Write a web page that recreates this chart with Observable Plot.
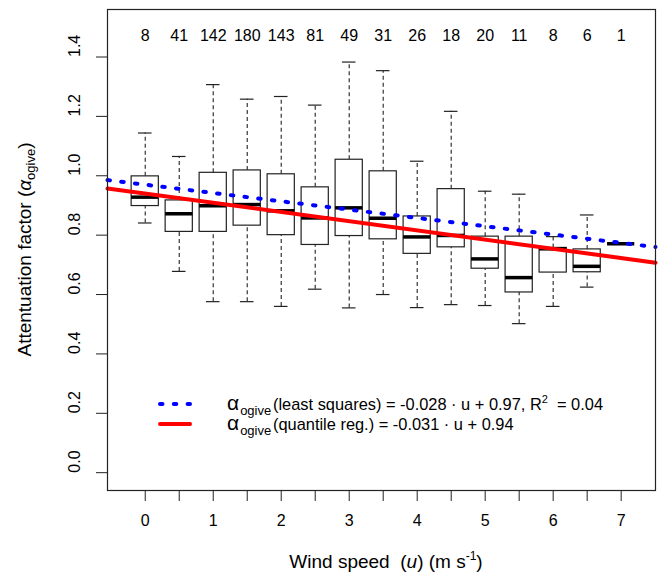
<!DOCTYPE html>
<html>
<head>
<meta charset="utf-8">
<script src="https://cdn.jsdelivr.net/npm/d3@7"></script>
<script src="https://cdn.jsdelivr.net/npm/@observablehq/plot@0.6"></script>
<style>
  html, body { margin: 0; padding: 0; background: #ffffff; }
  svg { display: block; }
</style>
</head>
<body>
<script>
// ---- Data ----
const windSpeed   = [0, 0.5, 1, 1.5, 2, 2.5, 3, 3.5, 4, 4.5, 5, 5.5, 6, 6.5, 7];
const counts      = [8, 41, 142, 180, 143, 81, 49, 31, 26, 18, 20, 11, 8, 6, 1];
const whiskerLow  = [0.841, 0.678, 0.576, 0.576, 0.560, 0.618, 0.555, 0.600, 0.556, 0.566, 0.563, 0.502, 0.560, 0.625, 0.771];
const quart1      = [0.898, 0.811, 0.811, 0.832, 0.800, 0.767, 0.797, 0.786, 0.737, 0.759, 0.687, 0.607, 0.674, 0.675, 0.771];
const medians     = [0.928, 0.872, 0.899, 0.903, 0.882, 0.858, 0.892, 0.857, 0.794, 0.799, 0.720, 0.657, 0.754, 0.695, 0.771];
const quart3      = [0.998, 0.917, 1.010, 1.018, 1.005, 0.961, 1.054, 1.015, 0.863, 0.955, 0.795, 0.795, 0.757, 0.752, 0.771];
const whiskerHigh = [1.144, 1.065, 1.307, 1.258, 1.267, 1.238, 1.383, 1.354, 1.049, 1.217, 0.948, 0.938, 0.795, 0.868, 0.771];

const xTickLabels = [0, 1, 2, 3, 4, 5, 6, 7];
const yTicks      = [0, 0.2, 0.4, 0.6, 0.8, 1.0, 1.2, 1.4];
const yTickLabels = ["0.0", "0.2", "0.4", "0.6", "0.8", "1.0", "1.2", "1.4"];

const fitNames      = ["least squares", "quantile reg."];
const fitSlopes     = [-0.028, -0.031];
const fitIntercepts = [0.97, 0.94];
const fitColors     = ["#0000ff", "#ff0000"];

// ---- Tables built from the arrays ----
const rows = windSpeed.map((u, i) => ({
  u, n: counts[i], lo: whiskerLow[i], q1: quart1[i], med: medians[i], q3: quart3[i], hi: whiskerHigh[i]
}));
const xDomain = [-0.555, 7.505];
const fitLine = k => xDomain.map(u => ({u, a: fitSlopes[k] * u + fitIntercepts[k]}));

const FONT = "'Liberation Sans', Arial, Helvetica, sans-serif";
const INK = "#222";
const halfBox = 0.2, halfCap = 0.1;
const DOTS = "2.5,11.3";

const plot = Plot.plot({
  width: 659,
  height: 574,
  marginLeft: 107,
  marginRight: 4,
  marginTop: 9,
  marginBottom: 84,
  style: {fontFamily: FONT, fontSize: "16px", background: "#ffffff", color: "#000"},
  x: {domain: xDomain},
  y: {domain: [-0.06, 1.56]},
  marks: [
    Plot.axisX({ticks: windSpeed, tickSize: 11, tickFormat: () => "", label: null, stroke: INK}),
    Plot.axisY({ticks: yTicks, tickSize: 11, tickFormat: () => "", label: null, stroke: INK}),
    Plot.text(xTickLabels, {x: d => d, text: d => String(d), frameAnchor: "bottom", dy: 35, fontSize: 16, fill: "#000"}),
    Plot.text(yTicks, {y: d => d, text: (d, i) => yTickLabels[i], frameAnchor: "left", dx: -33, rotate: -90, fontSize: 16, fill: "#000"}),
    Plot.text(rows, {x: "u", text: d => String(d.n), frameAnchor: "top", dy: 20, fontSize: 16, fill: "#000"}),
    // whiskers
    Plot.ruleX(rows, {x: "u", y1: "q3", y2: "hi", stroke: INK, strokeWidth: 1.1, strokeDasharray: "4,3"}),
    Plot.ruleX(rows, {x: "u", y1: "lo", y2: "q1", stroke: INK, strokeWidth: 1.1, strokeDasharray: "4,3"}),
    Plot.ruleY(rows, {x1: d => d.u - halfCap, x2: d => d.u + halfCap, y: "hi", stroke: INK, strokeWidth: 1.2}),
    Plot.ruleY(rows, {x1: d => d.u - halfCap, x2: d => d.u + halfCap, y: "lo", stroke: INK, strokeWidth: 1.2}),
    // boxes
    Plot.rect(rows.filter(d => d.q3 > d.q1), {x1: d => d.u - halfBox, x2: d => d.u + halfBox, y1: "q1", y2: "q3", fill: "#ffffff", stroke: INK, strokeWidth: 1.2}),
    Plot.ruleY(rows, {x1: d => d.u - halfBox, x2: d => d.u + halfBox, y: "med", stroke: "#000", strokeWidth: 3.5}),
    // fits
    Plot.line(fitLine(1), {x: "u", y: "a", stroke: fitColors[1], strokeWidth: 4}),
    Plot.line(fitLine(0), {x: "u", y: "a", stroke: fitColors[0], strokeWidth: 4, strokeDasharray: DOTS, strokeLinecap: "round"}),
    Plot.frame({stroke: INK, strokeWidth: 1.2})
  ]
});

document.body.appendChild(plot);

// ---- Titles and legend as real SVG text ----
const svg = d3.select(plot);

// y axis title
const yt = svg.append("text")
  .attr("transform", `translate(31, ${(9 + 490) / 2}) rotate(-90)`)
  .attr("text-anchor", "middle")
  .attr("font-family", FONT).attr("font-size", 19).attr("fill", "#000");
yt.append("tspan").text("Attentuation factor (");
yt.append("tspan").attr("font-style", "italic").text("α");
yt.append("tspan").attr("font-size", 13).attr("dy", 4).text("ogive");
yt.append("tspan").attr("dy", -4).text(")");

// x axis title
const xt = svg.append("text")
  .attr("x", 386).attr("y", 568)
  .attr("text-anchor", "middle")
  .attr("font-family", FONT).attr("font-size", 19).attr("fill", "#000");
xt.append("tspan").text("Wind speed\u00A0\u00A0(");
xt.append("tspan").attr("font-style", "italic").text("u");
xt.append("tspan").text(") (m s");
xt.append("tspan").attr("font-size", 12).attr("dy", -8).text("-1");
xt.append("tspan").attr("dy", 8).text(")");

// legend
const legendRows = [
  {y: 404, label: "(least squares) = -0.028 · u + 0.97, R", sup: "2", tail: "\u00A0 = 0.04"},
  {y: 424, label: "(quantile reg.) = -0.031 · u + 0.94", sup: null, tail: null}
];
const lg = svg.append("g").attr("font-family", FONT).attr("fill", "#000").attr("text-anchor", "start");
legendRows.forEach((r, k) => {
  lg.append("line")
    .attr("x1", 160).attr("x2", 190).attr("y1", r.y).attr("y2", r.y)
    .attr("stroke", fitColors[k]).attr("stroke-width", 4)
    .attr("stroke-linecap", "round")
    .attr("stroke-dasharray", k === 0 ? DOTS : null);
  const t = lg.append("text").attr("x", 227).attr("y", r.y + 6).attr("font-size", 16.4).attr("text-anchor", "start");
  t.append("tspan").attr("font-size", 21).text("α");
  t.append("tspan").attr("font-size", 13).attr("dx", 1).attr("dy", 5).text("ogive");
  t.append("tspan").attr("x", 273).attr("dy", -5).text(r.label);
  if (r.sup) {
    t.append("tspan").attr("font-size", 11).attr("dy", -7).text(r.sup);
    t.append("tspan").attr("dy", 7).text(r.tail);
  }
});
</script>
</body>
</html>
